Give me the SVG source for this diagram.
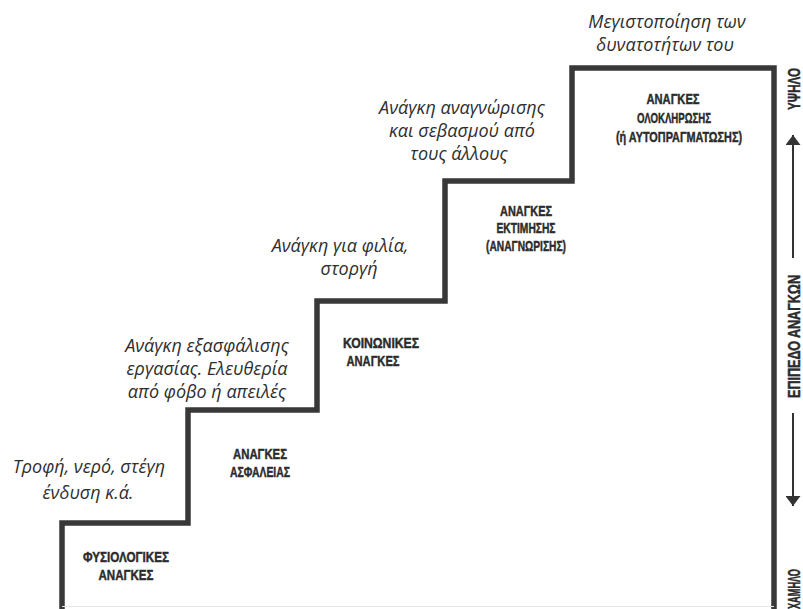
<svg xmlns="http://www.w3.org/2000/svg" width="803" height="609" viewBox="0 0 803 609">
<defs>
<style>
.stair{fill:none;stroke:#383838;stroke-width:5.5;stroke-linejoin:miter}
.lbl{font-family:"Liberation Sans",Arial,sans-serif;font-weight:bold;font-size:15.5px;fill:#2b2b2b;stroke:#2b2b2b;stroke-width:0.45;text-anchor:middle}
.desc{font-family:"Open Sans","Noto Sans",sans-serif;font-style:italic;font-size:18px;fill:#2e2e2e;text-anchor:middle}
.axis{stroke:#333;stroke-width:2;fill:none}
.axl{font-family:"Liberation Sans",Arial,sans-serif;font-weight:bold;font-size:16px;fill:#2b2b2b;stroke:#2b2b2b;stroke-width:0.45}
</style>
<marker id="ah" viewBox="0 0 10 15" refX="10" refY="7.5" markerWidth="11" markerHeight="15" markerUnits="userSpaceOnUse" orient="auto">
<path d="M0,0 L10,7.5 L0,15 Z" fill="#333"/>
</marker>
</defs>
<rect width="803" height="609" fill="#fff"/>
<g id="staircase">
<path class="stair" d="M62,612 V523 H188 V410 H317 V301 H445 V181 H572 V68 H774 V612"/>
<line x1="62" y1="606.5" x2="774" y2="606.5" stroke="#e6e6e6" stroke-width="1"/>
</g>
<g id="level1">
<text class="lbl"><tspan x="126" y="562" textLength="86" lengthAdjust="spacingAndGlyphs">ΦΥΣΙΟΛΟΓΙΚΕΣ</tspan><tspan x="126" y="580" textLength="55" lengthAdjust="spacingAndGlyphs">ΑΝΑΓΚΕΣ</tspan></text>
<text class="desc"><tspan x="89" y="473">Τροφή, νερό, στέγη</tspan><tspan x="88" y="499">ένδυση κ.ά.</tspan></text>
</g>
<g id="level2">
<text class="lbl"><tspan x="260" y="459" textLength="54" lengthAdjust="spacingAndGlyphs">ΑΝΑΓΚΕΣ</tspan><tspan x="260" y="477" textLength="60" lengthAdjust="spacingAndGlyphs">ΑΣΦΑΛΕΙΑΣ</tspan></text>
<text class="desc"><tspan x="207" y="352">Ανάγκη εξασφάλισης</tspan><tspan x="207" y="375">εργασίας. Ελευθερία</tspan><tspan x="207" y="398">από φόβο ή απειλές</tspan></text>
</g>
<g id="level3">
<text class="lbl"><tspan x="381" y="348" textLength="76" lengthAdjust="spacingAndGlyphs">ΚΟΙΝΩΝΙΚΕΣ</tspan><tspan x="373" y="366" textLength="53" lengthAdjust="spacingAndGlyphs">ΑΝΑΓΚΕΣ</tspan></text>
<text class="desc"><tspan x="340" y="252">Ανάγκη για φιλία,</tspan><tspan x="349" y="275">στοργή</tspan></text>
</g>
<g id="level4">
<text class="lbl"><tspan x="526" y="216" textLength="52" lengthAdjust="spacingAndGlyphs">ΑΝΑΓΚΕΣ</tspan><tspan x="526" y="233" textLength="59" lengthAdjust="spacingAndGlyphs">ΕΚΤΙΜΗΣΗΣ</tspan><tspan x="526" y="251" textLength="80" lengthAdjust="spacingAndGlyphs">(ΑΝΑΓΝΩΡΙΣΗΣ)</tspan></text>
<text class="desc"><tspan x="462" y="114">Ανάγκη αναγνώρισης</tspan><tspan x="462" y="137">και σεβασμού από</tspan><tspan x="459" y="160">τους άλλους</tspan></text>
</g>
<g id="level5">
<text class="lbl"><tspan x="673" y="104" textLength="53" lengthAdjust="spacingAndGlyphs">ΑΝΑΓΚΕΣ</tspan><tspan x="674" y="123" textLength="74" lengthAdjust="spacingAndGlyphs">ΟΛΟΚΛΗΡΩΣΗΣ</tspan><tspan x="679" y="142" textLength="126" lengthAdjust="spacingAndGlyphs">(ή ΑΥΤΟΠΡΑΓΜΑΤΩΣΗΣ)</tspan></text>
<text class="desc"><tspan x="667" y="28">Μεγιστοποίηση των</tspan><tspan x="665" y="51">δυνατοτήτων του</tspan></text>
</g>
<g id="axis-labels">
<text class="axl" transform="translate(800,110) rotate(-90)" textLength="42" lengthAdjust="spacingAndGlyphs">ΥΨΗΛΟ</text>
<text class="axl" transform="translate(800,398) rotate(-90)" textLength="123" lengthAdjust="spacingAndGlyphs">ΕΠΙΠΕΔΟ ΑΝΑΓΚΩΝ</text>
<text class="axl" transform="translate(800,609) rotate(-90)" textLength="40" lengthAdjust="spacingAndGlyphs">ΧΑΜΗΛΟ</text>
</g>
<g id="connectors">
<line class="axis" x1="793" y1="258" x2="793" y2="135" marker-end="url(#ah)"/>
<line class="axis" x1="793" y1="413" x2="793" y2="506" marker-end="url(#ah)"/>
</g>
</svg>
